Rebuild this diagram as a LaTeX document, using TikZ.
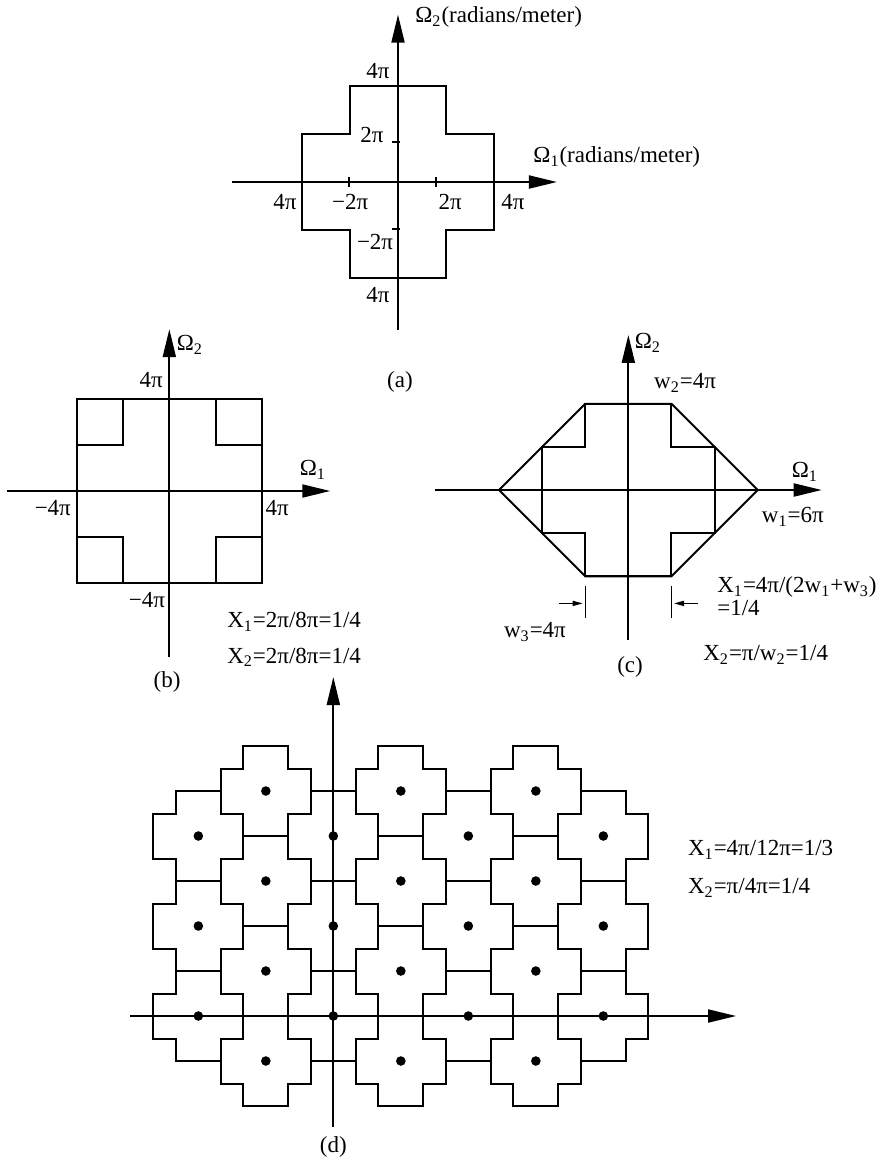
\documentclass[tikz,border=0pt]{standalone}
\usepackage{fontspec}
\setmainfont{Liberation Serif}
\usetikzlibrary{arrows.meta}

\tikzset{
  axis/.style={line width=1pt, -{Triangle[length=14pt,width=6.5pt]}},
  edge/.style={line width=1pt},
  tick/.style={line width=1pt},
  dimarrow/.style={line width=0.6pt, -{Triangle[length=5pt,width=2.6pt]}},
  lbl/.style={inner sep=0pt},
  pluscell/.pic={
    \draw[edge] (-2,4) -- (2,4) -- (2,2) -- (4,2) -- (4,-2) -- (2,-2) -- (2,-4)
      -- (-2,-4) -- (-2,-2) -- (-4,-2) -- (-4,2) -- (-2,2) -- cycle;
  }
}

\begin{document}
\begin{tikzpicture}[x=0.5pt, y=-0.5pt, font=\fontsize{11.5}{13}\selectfont]
  \useasboundingbox (0,0) rectangle (888,1164);

  % (a) ideal passband
  \begin{scope}[shift={(199pt,-91pt)}, x=11.95pt, y=11.95pt]
    \coordinate (a-w) at (-6.95,0); \coordinate (a-e) at (6.65,0);
    \coordinate (a-s) at (0,-6.2);  \coordinate (a-n) at (0,7);
    \pic (a-cell) at (0,0) {pluscell};
    \draw[axis] (a-w) -- (a-e);
    \draw[axis] (a-s) -- (a-n);
    \foreach \t in {-2.05,1.6}
      \draw[tick] (\t,-0.2) -- (\t,0.2);
    \foreach \t in {-1.97,1.68}
      \draw[tick] (-0.25,\t) -- (0.08,\t);
    \node[lbl] (a-v4) at (-0.84,4.64) {4π};
    \node[lbl] (a-v2) at (-1.09,1.95) {2π};
    \node[lbl] (a-vm2) at (-0.96,-2.51) {−2π};
    \node[lbl] (a-vm4) at (-0.84,-4.73) {4π};
    \node[lbl] (a-hm4) at (-4.73,-0.84) {4π};
    \node[lbl] (a-hm2) at (-2.0,-0.84) {−2π};
    \node[lbl] (a-h2) at (2.18,-0.84) {2π};
    \node[lbl] (a-h4) at (4.81,-0.84) {4π};
    \node[lbl, anchor=west] (a-om2) at (0.71,6.9) {Ω\textsubscript{2}(radians/meter)};
    \node[lbl, anchor=west] (a-om1) at (5.65,1.05) {Ω\textsubscript{1}(radians/meter)};
    \node[lbl] (a-cap) at (0.08,-8.37) {(a)};
  \end{scope}

  % (b) square cell
  \begin{scope}[shift={(84.67pt,-245.5pt)}, x=11.56pt, y=11.56pt]
    \coordinate (b-w) at (-7.03,0); \coordinate (b-e) at (6.96,0);
    \coordinate (b-s) at (0,-7.19); \coordinate (b-n) at (0,7.0);
    \draw[edge] (-4,-4) rectangle (4,4);
    \foreach \sx in {-1,1}
      \foreach \sy in {-1,1}
        \draw[edge] (4*\sx,2*\sy) -| (2*\sx,4*\sy);
    \draw[axis] (b-w) -- (b-e);
    \draw[axis] (b-s) -- (b-n);
    \node[lbl] (b-om2) at (0.89,6.32) {Ω\textsubscript{2}};
    \node[lbl] (b-v4) at (-0.79,4.81) {4π};
    \node[lbl] (b-om1) at (6.21,0.91) {Ω\textsubscript{1}};
    \node[lbl] (b-hm4) at (-5.04,-0.74) {−4π};
    \node[lbl] (b-h4) at (4.66,-0.74) {4π};
    \node[lbl] (b-vm4) at (-0.97,-4.72) {−4π};
    \node[lbl, anchor=west] (b-x1) at (2.49,-5.67) {X\textsubscript{1}=2π/8π=1/4};
    \node[lbl, anchor=west] (b-x2) at (2.49,-7.19) {X\textsubscript{2}=2π/8π=1/4};
    \node[lbl] (b-cap) at (-0.1,-8.27) {(b)};
  \end{scope}

  % (c) hexagonal cell
  \begin{scope}[shift={(314.17pt,-245pt)}, x=10.78pt, y=10.78pt]
    \coordinate (c-w) at (-8.97,0); \coordinate (c-e) at (8.97,0);
    \coordinate (c-s) at (0,-6.96); \coordinate (c-n) at (0,7.19);
    \draw[edge] (-6,0) -- (-2,4) -- (2,4) -- (6,0) -- (2,-4) -- (-2,-4) -- cycle;
    \pic (c-cell) at (0,0) {pluscell};
    \draw[axis] (c-w) -- (c-e);
    \draw[axis] (c-s) -- (c-n);
    \coordinate (c-dl) at (-2.12,-5.26); \coordinate (c-dr) at (2.12,-5.26);
    \draw[line width=0.6pt] (-2,-4.45) -- (-2,-5.94);
    \draw[line width=0.6pt] (2,-4.45) -- (2,-5.94);
    \draw[dimarrow] ([xshift=-12pt]c-dl) -- (c-dl);
    \draw[dimarrow] ([xshift=12pt]c-dr) -- (c-dr);
    \node[lbl] (c-om2) at (0.91,6.82) {Ω\textsubscript{2}};
    \node[lbl] (c-w2) at (2.63,4.97) {w\textsubscript{2}=4π};
    \node[lbl] (c-om1) at (8.19,0.84) {Ω\textsubscript{1}};
    \node[lbl] (c-w1) at (7.63,-1.25) {w\textsubscript{1}=6π};
    \node[lbl, anchor=west] (c-x1) at (4.11,-4.5) {X\textsubscript{1}=4π/(2w\textsubscript{1}+w\textsubscript{3})};
    \node[lbl, anchor=west] (c-x1b) at (4.11,-5.48) {=1/4};
    \node[lbl] (c-w3) at (-4.33,-6.59) {w\textsubscript{3}=4π};
    \node[lbl, anchor=west] (c-x2) at (3.46,-7.66) {X\textsubscript{2}=π/w\textsubscript{2}=1/4};
    \node[lbl] (c-cap) at (0.08,-8.21) {(c)};
  \end{scope}

  % (d) tiling of the sampled spectrum
  \begin{scope}[shift={(166.67pt,-508pt)}, x=5.625pt, y=5.625pt]
    \coordinate (d-w) at (-18.07,0); \coordinate (d-e) at (35.8,0);
    \coordinate (d-s) at (0,-9.87);  \coordinate (d-n) at (0,30.13);
    \foreach \v in {-4,4,12,20}
      \foreach \u in {-6,6,18} {
        \pic at (\u,\v) {pluscell};
        \fill (\u,\v) circle (2.4pt);
      }
    \foreach \v in {0,8,16}
      \foreach \u in {-12,0,12,24} {
        \pic at (\u,\v) {pluscell};
        \fill (\u,\v) circle (2.4pt);
      }
    \draw[axis] (d-w) -- (d-e);
    \draw[axis] (d-s) -- (d-n);
    \node[lbl, anchor=west] (d-x1) at (31.5,14.76) {X\textsubscript{1}=4π/12π=1/3};
    \node[lbl, anchor=west] (d-x2) at (31.5,11.38) {X\textsubscript{2}=π/4π=1/4};
    \node[lbl] (d-cap) at (0,-11.64) {(d)};
  \end{scope}
\end{tikzpicture}
\end{document}
